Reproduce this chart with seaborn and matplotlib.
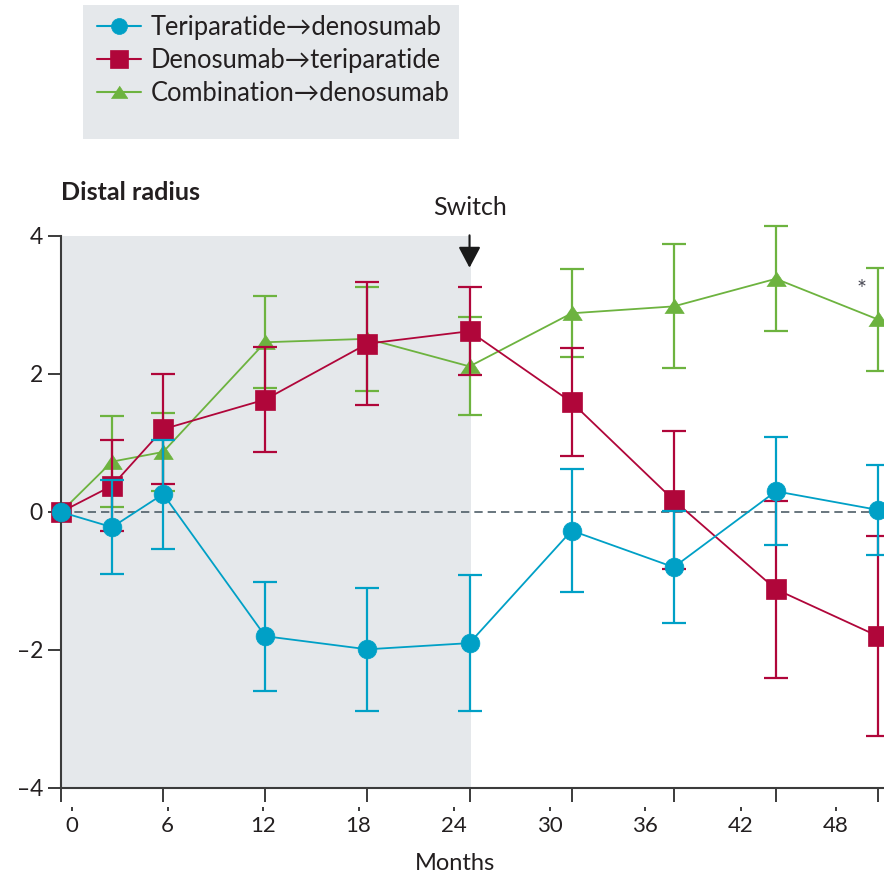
import numpy as np
import pandas as pd
import matplotlib
matplotlib.use("Agg")
import matplotlib.pyplot as plt
import matplotlib.colors as mcolors
from matplotlib.patches import Rectangle
import seaborn as sns

# ---- data: mean % change in BMD at the distal radius, with error half-widths ----
months = [0, 3, 6, 12, 18, 24, 30, 36, 42, 48]
groups = ["Teriparatide\u2192denosumab", "Denosumab\u2192teriparatide", "Combination\u2192denosumab"]

teri_deno = [0, -0.22, 0.26, -1.80, -1.99, -1.90, -0.27, -0.80, 0.30, 0.03]
teri_deno_err = [0, 0.68, 0.79, 0.79, 0.89, 0.98, 0.89, 0.81, 0.78, 0.65]

deno_teri = [0, 0.38, 1.20, 1.63, 2.44, 2.62, 1.59, 0.17, -1.12, -1.80]
deno_teri_err = [0, 0.66, 0.80, 0.76, 0.89, 0.64, 0.78, 1.00, 1.28, 1.45]

combo_deno = [0, 0.73, 0.87, 2.46, 2.51, 2.11, 2.88, 2.98, 3.38, 2.79]
combo_deno_err = [0, 0.66, 0.56, 0.67, 0.75, 0.71, 0.64, 0.90, 0.76, 0.74]

switch_month = 24
tick_months = [0, 6, 12, 18, 24, 30, 36, 42, 48]
tick_labels = ["0", "6", "12", "18", "24", "30", "36", "42", "48"]
y_ticks = [-4, -2, 0, 2, 4]
y_labels = ["\u20134", "\u20132", "0", "2", "4"]

series = {
    groups[0]: (teri_deno, teri_deno_err),
    groups[1]: (deno_teri, deno_teri_err),
    groups[2]: (combo_deno, combo_deno_err),
}

df = pd.DataFrame(
    [(g, m, v) for g, (vals, _) in series.items() for m, v in zip(months, vals)],
    columns=["Group", "Months", "Change"],
)

# ---- style ----
sns.set_theme(style="ticks")
plt.rcParams["font.family"] = ["Lato", "DejaVu Sans"]
TEXT = "#231f20"
AXIS = "#3b3b3b"
palette = {groups[0]: "#00a0c6", groups[1]: "#b0063a", groups[2]: "#6db33f"}
flat_tri = [(-1.0, -0.72), (1.0, -0.72), (0.0, 0.78)]
marker_map = {groups[0]: "o", groups[1]: "s", groups[2]: flat_tri}
marker_size = {groups[0]: 13.5, groups[1]: 14.5, groups[2]: 14}
layer = {groups[2]: 2.0, groups[1]: 2.4, groups[0]: 2.8}

W, H = 884, 876
fig = plt.figure(figsize=(W / 100, H / 100), dpi=100)
ax = fig.add_axes([61 / W, 88 / H, (W - 61) / W, 552 / H])

# shaded on-treatment period and zero reference
ax.axvspan(0, switch_month + 0.1, color="#e5e8eb", lw=0, zorder=0)
ax.axhline(0, color="#4f5f68", lw=1.2, ls=(0, (5, 3)), zorder=1.5)

sns.lineplot(
    data=df, x="Months", y="Change", hue="Group", style="Group",
    hue_order=groups, style_order=groups, palette=palette,
    markers=marker_map, dashes=False, linewidth=1.3, sort=False, ax=ax,
)

hex_to_group = {mcolors.to_hex(c): g for g, c in palette.items()}
for line in ax.lines:
    g = hex_to_group.get(mcolors.to_hex(line.get_color()))
    if g is None:
        continue
    line.set_zorder(layer[g] + 0.1)
    line.set_markersize(marker_size[g])
    line.set_markeredgecolor(palette[g])
    line.set_markeredgewidth(0.5)
    line.set_clip_on(False)

# error bars with caps
for g, (vals, errs) in series.items():
    eb = ax.errorbar(months[1:], vals[1:], yerr=errs[1:], fmt="none",
                     ecolor=palette[g], elinewidth=1.6, capsize=8.5,
                     capthick=1.6, zorder=layer[g])
    for art in list(eb.lines[1]) + list(eb.lines[2]):
        art.set_clip_on(False)

handles, labels = ax.get_legend_handles_labels()
ax.get_legend().remove()

ax.set_xlim(0, 48.35)
ax.set_ylim(-4, 4)
ax.set_xlabel("")
ax.set_ylabel("")
sns.despine(ax=ax)
for side in ("left", "bottom"):
    ax.spines[side].set_color(AXIS)
    ax.spines[side].set_linewidth(1.5)

ax.set_xticks(tick_months)
ax.set_xticklabels([])
ax.tick_params(axis="x", length=10, width=1.4, color=AXIS, direction="out")
ax.set_yticks(y_ticks)
ax.set_yticklabels(y_labels)
ax.tick_params(axis="y", length=9.5, width=1.4, color=AXIS, direction="out",
               pad=3.5, labelsize=16.5, labelcolor=TEXT)

# month labels sit on their own slightly compressed scale below the axis
label_pos = [0.65 + m * 0.935 for m in tick_months]
sec = ax.secondary_xaxis(-0.0344)
sec.spines["bottom"].set_visible(False)
sec.set_xticks(label_pos)
sec.set_xticklabels(tick_labels)
sec.tick_params(axis="x", length=3, width=1.4, color=AXIS, pad=3.5,
                labelsize=16, labelcolor=TEXT)

# switch marker
ax.annotate("", xy=(switch_month, 3.54), xytext=(switch_month, 4.01),
            arrowprops=dict(arrowstyle="-|>,head_length=0.85,head_width=0.45",
                            color="#1a1a1a", lw=1.5, mutation_scale=15,
                            shrinkA=0, shrinkB=0),
            annotation_clip=False)
ax.text(switch_month, 4.42, "Switch", ha="center", va="center",
        fontsize=18, color=TEXT, clip_on=False)
ax.text(47.05, 3.22, "*", ha="center", va="center", fontsize=17,
        color="#4a4a55", clip_on=False)

fig.text(61 / W, 1 - 193 / H, "Distal radius", ha="left", va="center",
         fontsize=18, fontweight="bold", color=TEXT)
fig.text(455 / W, 1 - 864 / H, "Months", ha="center", va="center",
         fontsize=17, color=TEXT)

# legend on a grey panel
fig.patches.append(Rectangle((83 / W, 1 - 139 / H), (459 - 83) / W, (139 - 5) / H,
                             transform=fig.transFigure, facecolor="#e5e8eb",
                             edgecolor="none", zorder=0))
for h in handles:
    g = h.get_label()
    h.set_markersize(marker_size.get(g, 13) * 0.85)
    h.set_markeredgecolor(palette.get(g, "k"))
    h.set_linewidth(1.5)
fig.legend(handles, labels, loc="upper left", bbox_to_anchor=(97 / W, 1 - 15 / H),
           frameon=False, fontsize=18.4, handlelength=1.72, handletextpad=0.39,
           labelspacing=0.32, borderpad=0, borderaxespad=0, labelcolor=TEXT)

fig.savefig("out.png", dpi=100)
